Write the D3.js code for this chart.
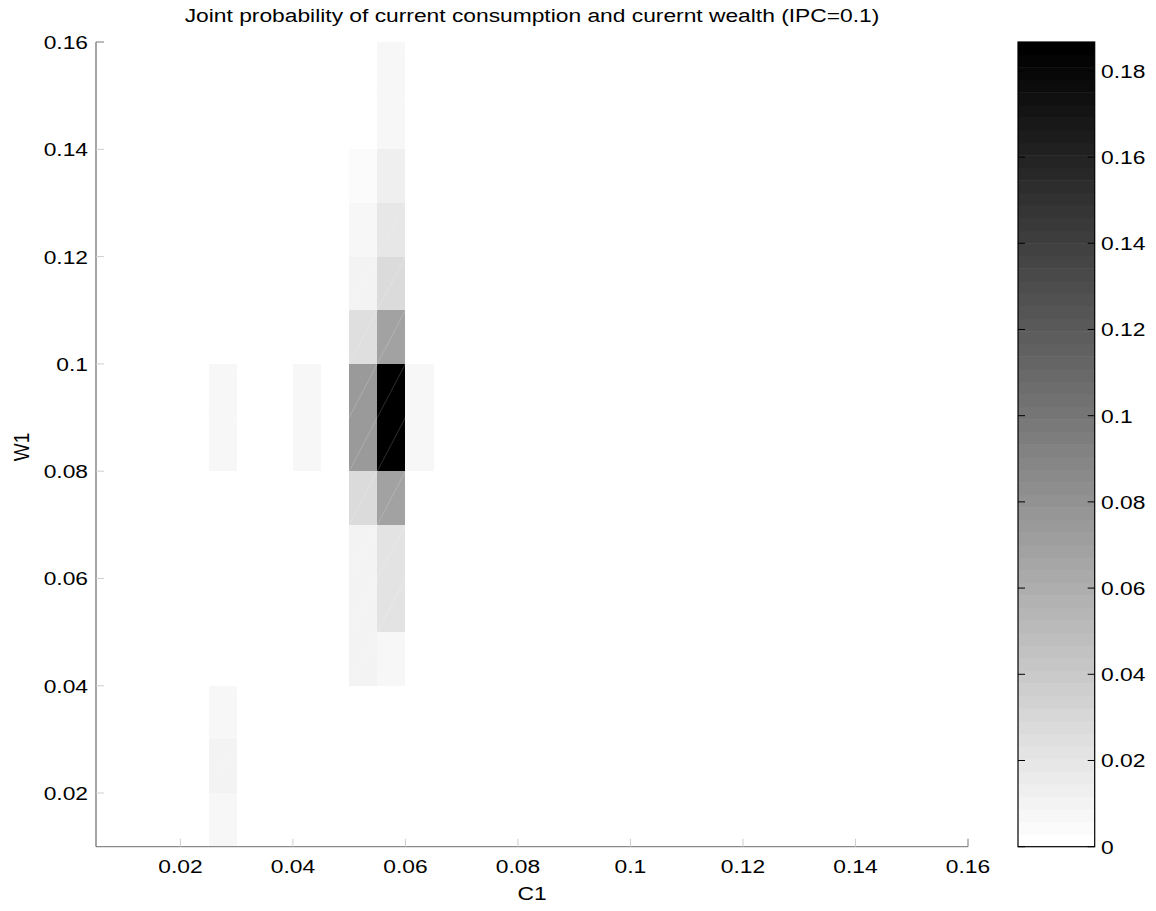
<!DOCTYPE html>
<html lang="en">
<head>
  <meta charset="UTF-8">
  <title>Joint probability</title>
  <script src="https://d3js.org/d3.v7.min.js"></script>
  <style>
    body { margin: 0; background: #fff; }
    svg { display: block; font-family: "Liberation Sans", Arial, sans-serif; }
  </style>
</head>
<body>
  <svg width="1156" height="911"></svg>

  <script>
    // C1 cell left edges, W1 cell bottom edges, bin sizes
    const cLeft = [0.025, 0.04, 0.05, 0.055, 0.06];
    const wBottom = [0.01, 0.02, 0.03, 0.04, 0.05, 0.06, 0.07, 0.08, 0.09, 0.10, 0.11, 0.12, 0.13, 0.14, 0.15];
    const cStep = 0.005;
    const wStep = 0.01;

    // probability for each C1 column, one value per W1 row (bottom to top)
    const p025 = [0.0066, 0.0095, 0.0066, 0, 0, 0, 0, 0.0066, 0.0066, 0, 0, 0, 0, 0, 0];
    const p040 = [0, 0, 0, 0, 0, 0, 0, 0.0066, 0.0066, 0, 0, 0, 0, 0, 0];
    const p050 = [0, 0, 0, 0.011, 0.011, 0.0105, 0.027, 0.074, 0.074, 0.0257, 0.0105, 0.0073, 0.0037, 0, 0];
    const p055 = [0, 0, 0, 0.0073, 0.021, 0.0225, 0.0697, 0.187, 0.185, 0.0675, 0.0279, 0.018, 0.0139, 0.0073, 0.0073];
    const p060 = [0, 0, 0, 0, 0, 0, 0, 0.0066, 0.0066, 0, 0, 0, 0, 0, 0];
    const columns = [p025, p040, p050, p055, p060];

    const xTicks = [0.02, 0.04, 0.06, 0.08, 0.1, 0.12, 0.14, 0.16];
    const yTicks = [0.02, 0.04, 0.06, 0.08, 0.1, 0.12, 0.14, 0.16];
    const cbTicks = [0, 0.02, 0.04, 0.06, 0.08, 0.1, 0.12, 0.14, 0.16, 0.18];
    const pMax = 0.1867;

    const title = 'Joint probability of current consumption and curernt wealth (IPC=0.1)';
    const fontSize = 19;
    const stretch = 1.2;

    const plot = {left: 96, right: 968, top: 42, bottom: 846.7};
    const cbar = {left: 1018, right: 1094.7};

    const svg = d3.select('svg');

    const xScale = d3.scaleLinear().domain([0.005, 0.16]).range([plot.left, plot.right]);
    const yScale = d3.scaleLinear().domain([0.01, 0.16]).range([plot.bottom, plot.top]);

    // flipped 64 level gray colormap
    const grays = d3.range(64).map(i => {
      const g = Math.round(255 * (63 - i) / 63);
      return d3.rgb(g, g, g).formatHex();
    });
    const color = d3.scaleQuantize().domain([0, pMax]).range(grays);

    const cells = [];
    columns.forEach((col, ci) => {
      col.forEach((p, wi) => {
        cells.push({c: cLeft[ci], w: wBottom[wi], p});
      });
    });

    const cellG = svg.append('g');
    cellG.selectAll('rect')
      .data(cells)
      .join('rect')
      .attr('x', d => xScale(d.c))
      .attr('y', d => yScale(d.w + wStep))
      .attr('width', d => xScale(d.c + cStep) - xScale(d.c))
      .attr('height', d => yScale(d.w) - yScale(d.w + wStep))
      .attr('fill', d => color(d.p))
      .attr('shape-rendering', 'crispEdges');

    // faint triangle seams
    cellG.selectAll('line')
      .data(cells.filter(d => d.p > 0))
      .join('line')
      .attr('x1', d => xScale(d.c))
      .attr('y1', d => yScale(d.w))
      .attr('x2', d => xScale(d.c + cStep))
      .attr('y2', d => yScale(d.w + wStep))
      .attr('stroke', '#fff')
      .attr('stroke-opacity', 0.3)
      .attr('stroke-width', 0.6);

    function label(g, x, y, text, anchor, rotate) {
      const t = g.append('text')
        .attr('font-size', fontSize)
        .attr('fill', '#000')
        .attr('text-anchor', anchor)
        .text(text);
      if (rotate) {
        t.attr('transform', `translate(${x},${y}) rotate(-90) scale(1,${stretch})`);
      } else {
        t.attr('transform', `translate(${x},${y}) scale(${stretch},1)`);
      }
      return t;
    }

    const axisG = svg.append('g');

    // axis lines
    axisG.append('line')
      .attr('x1', plot.left).attr('x2', plot.right)
      .attr('y1', plot.bottom).attr('y2', plot.bottom)
      .attr('stroke', '#8a8a8a').attr('stroke-width', 1.2);
    axisG.append('line')
      .attr('x1', plot.left).attr('x2', plot.left)
      .attr('y1', plot.top).attr('y2', plot.bottom)
      .attr('stroke', '#6a6a6a').attr('stroke-width', 1.2);

    xTicks.forEach((t, i) => {
      const x = xScale(t);
      axisG.append('line')
        .attr('x1', x).attr('x2', x)
        .attr('y1', plot.bottom).attr('y2', plot.bottom - 8)
        .attr('stroke', i === xTicks.length - 1 ? '#777' : '#cfcfcf');
      label(axisG, x, 873, d3.format('~g')(t), 'middle');
    });

    yTicks.forEach((t, i) => {
      const y = yScale(t);
      axisG.append('line')
        .attr('x1', plot.left).attr('x2', plot.left + 8)
        .attr('y1', y).attr('y2', y)
        .attr('stroke', i === yTicks.length - 1 ? '#777' : '#cfcfcf');
      label(axisG, 88, y + 7, d3.format('~g')(t), 'end');
    });

    label(axisG, (plot.left + plot.right) / 2, 22, title, 'middle');
    label(axisG, (plot.left + plot.right) / 2, 900, 'C1', 'middle');
    label(axisG, 29, 447, 'W1', 'middle', true);

    // colorbar
    const cbScale = d3.scaleLinear().domain([0, pMax]).range([plot.bottom, plot.top]);
    const cbG = svg.append('g');
    cbG.selectAll('rect')
      .data(grays)
      .join('rect')
      .attr('x', cbar.left)
      .attr('width', cbar.right - cbar.left)
      .attr('y', (g, i) => cbScale(pMax * (i + 1) / 64))
      .attr('height', (g, i) => cbScale(pMax * i / 64) - cbScale(pMax * (i + 1) / 64) + 0.5)
      .attr('fill', g => g);

    cbG.append('rect')
      .attr('x', cbar.left).attr('y', plot.top)
      .attr('width', cbar.right - cbar.left)
      .attr('height', plot.bottom - plot.top)
      .attr('fill', 'none')
      .attr('stroke', '#000')
      .attr('stroke-width', 1.2);

    cbTicks.forEach(t => {
      const y = cbScale(t);
      cbG.append('line')
        .attr('x1', cbar.left).attr('x2', cbar.left + 7)
        .attr('y1', y).attr('y2', y)
        .attr('stroke', '#000');
      cbG.append('line')
        .attr('x1', cbar.right).attr('x2', cbar.right - 7)
        .attr('y1', y).attr('y2', y)
        .attr('stroke', '#000');
      label(cbG, 1101, y + 7, d3.format('~g')(t), 'start');
    });
  </script>
</body>
</html>
